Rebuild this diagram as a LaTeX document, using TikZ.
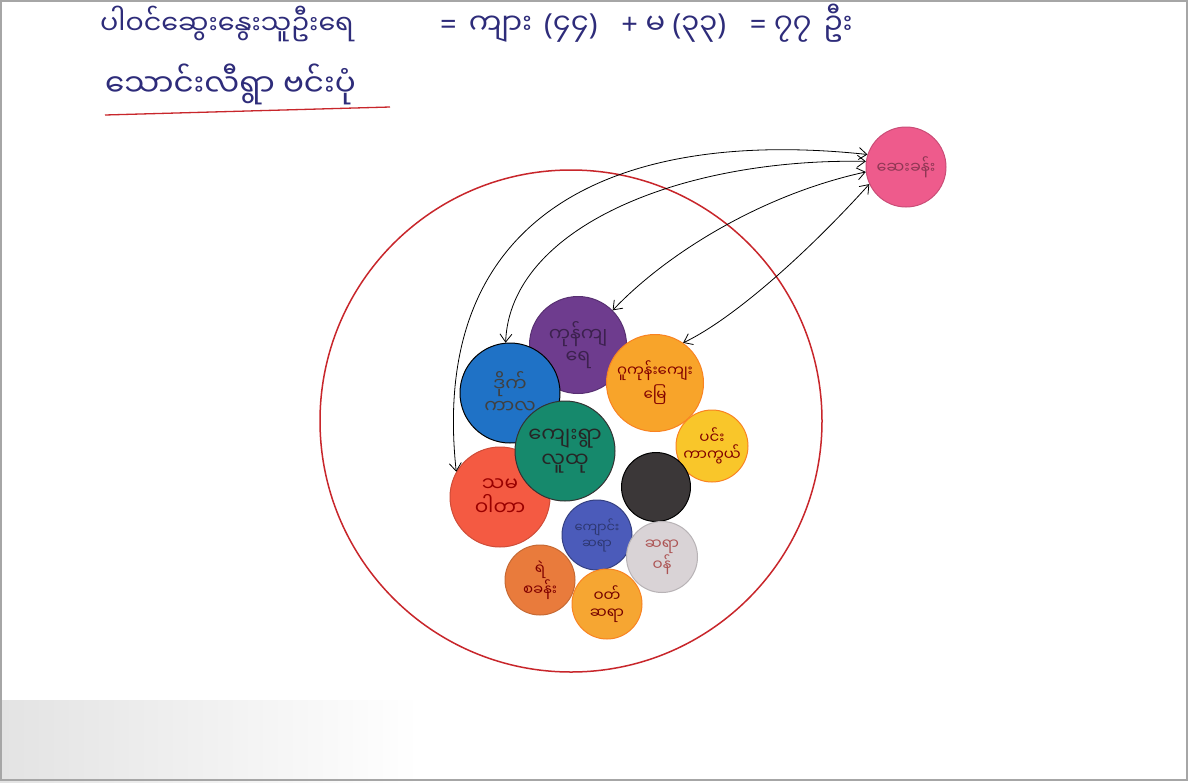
\documentclass[tikz,border=0pt]{standalone}
\usepackage{fontspec}
\newfontfamily\my[Script=Myanmar]{Noto Sans Myanmar UI}
\newfontfamily\lat{Noto Sans}
\usetikzlibrary{arrows.meta}
\definecolor{ink}{HTML}{2E2C7A}
\definecolor{redline}{HTML}{C8262B}
\definecolor{cpurple}{HTML}{6E3C8E}
\definecolor{cblue}{HTML}{1F72C6}
\definecolor{corange}{HTML}{F8A42A}
\definecolor{cyellow}{HTML}{F9C62A}
\definecolor{cgreen}{HTML}{16896C}
\definecolor{cred}{HTML}{F45A42}
\definecolor{cblack}{HTML}{3B3738}
\definecolor{cdblue}{HTML}{4B5BBA}
\definecolor{cgray}{HTML}{D9D3D6}
\definecolor{cbrown}{HTML}{E97B3C}
\definecolor{corange2}{HTML}{F6A632}
\definecolor{cpink}{HTML}{EE5B8C}
\tikzset{
  ball/.style={circle, inner sep=0pt, line width=1pt, align=center, font=\my\fontsize{19}{22}\selectfont},
  sball/.style={ball, font=\my\fontsize{15}{17}\selectfont},
  link/.style={black, line width=0.8pt, {Straight Barb[length=8pt,width=12pt]}-{Straight Barb[length=8pt,width=12pt]}},
  title/.style={anchor=base west, inner sep=0pt, text=ink, font=\my\fontsize{27}{32}\selectfont}
}
\newcommand{\gap}{\hspace{12pt}}
\begin{document}
\begin{tikzpicture}[x=1pt,y=-1pt]
\useasboundingbox (0,0) rectangle (1189,782);
\fill[white] (0,0) rectangle (1189,782);
\shade[left color=gray!22, right color=white] (0,700) rectangle (420,782);
\draw[gray!70, line width=2pt] (1,1) rectangle (1187,780);

% titles
\node[title] (t1) at (100,34) {ပါဝင်ဆွေးနွေးသူဦးရေ};
\node[title, font=\my\fontsize{29}{34}\selectfont] (t2) at (440,34) {{\lat=}\gap ကျား\gap{\lat(}၄၄{\lat)}\gap\gap{\lat+}\ မ\ {\lat(}၃၃{\lat)}\gap\gap{\lat=}\ ၇၇\gap ဦး};
\node[title, font=\my\fontsize{31}{36}\selectfont] (t3) at (105,96) {သောင်းလီရွာ ဗင်းပုံ};
\draw[redline, line width=1.3pt] (105,115) -- (390,107);

% big circle
\node[circle, draw=redline, line width=1.5pt, minimum size=502pt, inner sep=0pt] (big) at (571,421) {};

% small circles
\node[ball, fill=cpurple, draw=cpurple!80!black, minimum size=97pt, text=cpurple!55!black] (purple) at (578,345) {ကုန်ကျ\\ရေ};
\node[ball, fill=cblue, draw=black, minimum size=100pt, text=black!75] (blue) at (510,393) {ဒိုက်\\ကာလ};
\node[ball, fill=corange, draw=corange!80!red, minimum size=97pt, text=red!50!black, font=\my\fontsize{15}{24}\selectfont] (orange) at (655,383) {ဂူကုန်းကျေး\\မြေ};
\node[sball, fill=cyellow, draw=corange!80!red, minimum size=72pt, text=red!50!black] (yellow) at (712,446) {ပင်း\\ကာကွယ်};
\node[ball, fill=cred, draw=cred!85!black, minimum size=100pt, text=red!60!black, font=\my\fontsize{20}{24}\selectfont] (red) at (500,497) {သမ\\ဝါတာ};
\node[ball, fill=cgreen, draw=black!80, minimum size=100pt, text=black!85, font=\my\fontsize{21}{25}\selectfont] (green) at (565,451) {ကျေးရွာ\\လူထု};
\node[ball, fill=cblack, draw=black, minimum size=69pt] (black) at (656,487) {};
\node[sball, fill=cdblue, draw=cdblue!70!black, minimum size=70pt, text=cdblue!60!black, font=\my\fontsize{13}{16}\selectfont] (dblue) at (597,535) {ကျောင်း\\ဆရာ};
\node[sball, fill=cgray, draw=cgray!85!black, minimum size=71pt, text=red!35!gray] (gray) at (662,557) {ဆရာ\\ဝန်};
\node[sball, fill=cbrown, draw=cbrown!85!black, minimum size=70pt, text=red!50!black] (brown) at (540,580) {ရဲ\\စခန်း};
\node[sball, fill=corange2, draw=corange!80!red, minimum size=70pt, text=red!45!black] (orange2) at (607,604) {ဝတ်\\ဆရာ};
\node[ball, fill=cpink, draw=cpink!85!black, minimum size=80pt, text=cpink!60!black, font=\my\fontsize{16}{18}\selectfont] (pink) at (906,167) {ဆေးခန်း};

% connectors
\draw[link] (pink.162) .. controls (620,128) and (428,210) .. (red.150);
\draw[link] (pink.172) .. controls (680,158) and (510,228) .. (blue.95);
\draw[link] (pink.187) .. controls (760,195) and (665,255) .. (purple.45);
\draw[link] (pink.205) .. controls (810,250) and (735,318) .. (orange.55);
\end{tikzpicture}
\end{document}
